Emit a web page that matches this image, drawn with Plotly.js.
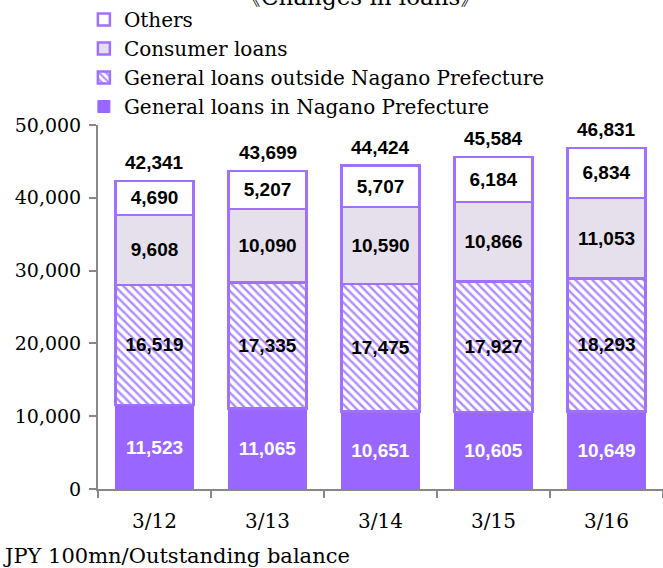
<!DOCTYPE html>
<html>
<head>
<meta charset="utf-8">
<script src="https://cdn.plot.ly/plotly-3.0.1.min.js"></script>
<style>html,body{margin:0;padding:0;background:#fff;}#chart{width:663px;height:568px;}</style>
</head>
<body>
<div id="chart"></div>
<script>
const categories = ['3/12', '3/13', '3/14', '3/15', '3/16'];
const inNagano = [11523, 11065, 10651, 10605, 10649];
const outsideNagano = [16519, 17335, 17475, 17927, 18293];
const consumer = [9608, 10090, 10590, 10866, 11053];
const others = [4690, 5207, 5707, 6184, 6834];
const totals = [42341, 43699, 44424, 45584, 46831];
const seriesNames = ['General loans in Nagano Prefecture', 'General loans outside Nagano Prefecture', 'Consumer loans', 'Others'];

const serif = 'DejaVu Serif, serif';
const labelFont = {family: 'Liberation Sans, Arial, sans-serif', size: 19, color: '#000', weight: 'bold'};
const purple = '#9966FF';
const outline = {color: '#A070FF', width: 2.5};

const common = {
  type: 'bar', x: categories, width: 0.69,
  texttemplate: '<b>%{y:,}</b>', textposition: 'inside', insidetextanchor: 'middle',
  textangle: 0, constraintext: 'none', hoverinfo: 'skip'
};

const traces = [
  Object.assign({}, common, {name: seriesNames[0], y: inNagano,
    marker: {color: purple, line: {color: purple, width: 1}},
    textfont: Object.assign({}, labelFont, {color: '#fff'})}),
  Object.assign({}, common, {name: seriesNames[1], y: outsideNagano,
    marker: {color: '#fff', line: outline, pattern: {shape: '\\', fgcolor: '#B08CFF', bgcolor: '#fff', size: 6, solidity: 0.4}},
    textfont: labelFont}),
  Object.assign({}, common, {name: seriesNames[2], y: consumer,
    marker: {color: '#E6E0EC', line: outline},
    textfont: labelFont}),
  Object.assign({}, common, {name: seriesNames[3], y: others,
    marker: {color: '#fff', line: outline},
    textfont: labelFont})
];

const annotations = categories.map((c, i) => ({
  x: c, y: totals[i], xref: 'x', yref: 'y', yanchor: 'bottom', yshift: 6,
  text: '<b>' + totals[i].toLocaleString('en-US') + '</b>', showarrow: false,
  font: {family: 'Liberation Sans, Arial, sans-serif', size: 19, color: '#000'}
}));
annotations.push({
  xref: 'paper', yref: 'paper', x: 0.465, y: 1.352, xanchor: 'center', yanchor: 'middle',
  text: '《Changes in loans》', showarrow: false, font: {family: serif, size: 23, color: '#000'}
});
annotations.push({
  xref: 'paper', yref: 'paper', x: -0.171, y: -0.184, xanchor: 'left', yanchor: 'middle',
  text: 'JPY 100mn/Outstanding balance', showarrow: false, font: {family: serif, size: 21, color: '#000'}
});

const layout = {
  width: 663, height: 568,
  margin: {l: 98, r: 0, t: 123, b: 79},
  paper_bgcolor: '#fff', plot_bgcolor: '#fff',
  barmode: 'stack', bargap: 0.31,
  showlegend: true,
  legend: {x: -0.025, y: 1.345, xanchor: 'left', yanchor: 'top', traceorder: 'reversed',
    font: {family: serif, size: 20, color: '#000'}, itemwidth: 30, tracegroupgap: 0, bgcolor: 'rgba(0,0,0,0)'},
  xaxis: {type: 'category', range: [-0.5, 4.5], showline: true, linecolor: '#888', linewidth: 2,
    ticks: 'outside', tickson: 'boundaries', ticklen: 7, tickcolor: '#888', tickwidth: 2,
    showgrid: false, ticklabelstandoff: 13, tickfont: {family: serif, size: 20, color: '#000'}},
  yaxis: {range: [0, 50000], dtick: 10000, tickformat: ',', showline: true, linecolor: '#888', linewidth: 2,
    ticks: 'outside', ticklen: 7, tickcolor: '#888', tickwidth: 2, showgrid: false, zeroline: false,
    ticklabelstandoff: 4, tickfont: {family: serif, size: 19, color: '#000'}},
  annotations: annotations,
  font: {family: serif}
};

Plotly.newPlot('chart', traces, layout, {displayModeBar: false, staticPlot: true});
</script>
</body>
</html>
